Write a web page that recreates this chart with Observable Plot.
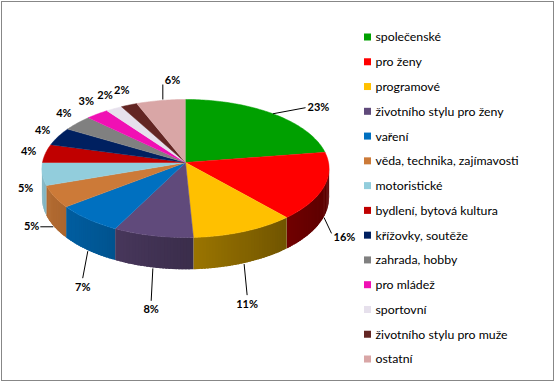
<!DOCTYPE html>
<html><head><meta charset="utf-8">
<script src="https://cdn.jsdelivr.net/npm/d3@7"></script>
<script src="https://cdn.jsdelivr.net/npm/@observablehq/plot@0.6"></script>
<style>body{margin:0;background:#fff} svg{display:block}</style>
</head><body><div id="chart"></div>
<script>
const categories = ["společenské","pro ženy","programové","životního stylu pro ženy","vaření","věda, technika, zajímavosti","motoristické","bydlení, bytová kultura","křížovky, soutěže","zahrada, hobby","pro mládež","sportovní","životního stylu pro muže","ostatní"];
const shares = [22.6,15.9,10.7,8.3,7.0,5.2,5.3,4.3,4.2,3.7,2.8,2.0,2.0,6.0];
const colors = ["#00A000","#FF0000","#FFC000","#604A7B","#0070C0","#CC7A38","#92CDDC","#C00000","#002060","#808080","#F010B4","#E6E0EC","#632523","#D9A6A6"];

const W = 555, H = 382;
const cx = 185, cy = 162, R = 143, RY = 68.5, T = 29, D = 11.5;
function proj(theta, r = 1, down = 0) {
  const X = r * Math.sin(theta), Z = -r * Math.cos(theta);
  const s = D / (D - Z);
  return [cx + R * X * s, cy + RY * Z * s + down * s];
}
function shade(c, f) {
  const k = d3.rgb(c);
  return d3.rgb(k.r * f, k.g * f, k.b * f).formatHex();
}
const total = d3.sum(shares);
const topPts = [], sidePts = [], labels = [], leaders = [];
let cum = 0;
shares.forEach((v, i) => {
  const a0 = cum / total * 2 * Math.PI;
  cum += v;
  const a1 = cum / total * 2 * Math.PI;
  const id = "t" + i;
  topPts.push({id, x: cx, y: cy, c: colors[i]});
  const n = Math.max(2, Math.ceil((a1 - a0) / (Math.PI / 180)));
  for (let k = 0; k <= n; k++) {
    const [x, y] = proj(a0 + (a1 - a0) * k / n);
    topPts.push({id, x, y, c: colors[i]});
  }
  const v0 = Math.max(a0, Math.PI / 2), v1 = Math.min(a1, 3 * Math.PI / 2);
  if (v1 > v0) {
    const step = 1.2 * Math.PI / 180;
    const m = Math.max(1, Math.ceil((v1 - v0) / step));
    const dt = (v1 - v0) / m;
    for (let k = 0; k < m; k++) {
      const t0 = v0 + dt * k;
      const t1 = Math.min(v1, t0 + dt * 1.7);
      const tm = t0 + dt / 2;
      const f = 0.62 - 0.27 * Math.sin(tm);
      const c = shade(colors[i], f);
      const sid = "s" + i + "_" + k;
      for (const p of [proj(t0), proj(t1), proj(t1, 1, T), proj(t0, 1, T)]) sidePts.push({id: sid, x: p[0], y: p[1], c});
    }
  }
  const mid = (a0 + a1) / 2;
  const X = Math.sin(mid), Z = -Math.cos(mid);
  const s = D / (D - Z);
  const [rx, ry] = proj(mid);
  const text = Math.round(v / total * 100) + "%";
  if (Z >= 0.3) {
    const by = ry + T * s;
    if (X < -0.8) {
      leaders.push({id: i, x1: rx - 1, y1: by, x2: rx - 14, y2: by});
      labels.push({x: rx - 15, y: by, text, anchor: "end"});
    } else {
      const ex = rx + X * 8, ey = by + 8 + Z * 26;
      leaders.push({id: i, x1: rx, y1: by + 1, x2: ex, y2: ey});
      if (Z > 0.6) labels.push({x: ex, y: ey + 9, text, anchor: "middle"});
      else labels.push({x: ex + 2, y: ey + 4, text, anchor: "start"});
    }
  } else if (Z < 0 && X > 0.5) {
    const ex = rx + X * 50, ey = ry + Z * 8;
    leaders.push({id: i, x1: rx, y1: ry, x2: ex, y2: ey});
    labels.push({x: ex + 2, y: ey, text, anchor: "start"});
  } else if (Z < 0 && Math.abs(X) < 0.3) {
    leaders.push({id: i, x1: rx + 2, y1: ry - 1, x2: rx + 2, y2: ry - 16});
    labels.push({x: rx + 4, y: ry - 20, text, anchor: "start"});
  } else {
    const frac = Math.max(0, Math.min(1, Z * 2.5));
    const by = ry + T * s * frac;
    labels.push({x: rx + X * 17, y: by + Z * 16, text, anchor: "middle"});
  }
});
const legend = categories.map((name, i) => ({name, c: colors[i], y: 37 + i * 24.77}));

const chart = Plot.plot({
  width: W, height: H,
  marginTop: 1, marginLeft: 1, marginRight: 2, marginBottom: 2,
  x: {domain: [0, W], range: [0, W], axis: null},
  y: {domain: [0, H], range: [0, H], axis: null},
  color: {type: "identity"},
  style: {fontFamily: "Lato", background: "#fff"},
  marks: [
    Plot.frame({stroke: "#878787"}),
    Plot.line(sidePts, {x: "x", y: "y", z: "id", fill: "c", stroke: "none"}),
    Plot.line(topPts, {x: "x", y: "y", z: "id", fill: "c", stroke: "c", strokeWidth: 0.5}),
    Plot.link(leaders, {x1: "x1", y1: "y1", x2: "x2", y2: "y2", stroke: "#000", strokeWidth: 1}),
    Plot.text(labels.filter(d => d.anchor === "middle"), {x: "x", y: "y", text: "text", textAnchor: "middle", fontWeight: "bold", fontSize: 11, fill: "#000"}),
    Plot.text(labels.filter(d => d.anchor === "start"), {x: "x", y: "y", text: "text", textAnchor: "start", fontWeight: "bold", fontSize: 11, fill: "#000"}),
    Plot.text(labels.filter(d => d.anchor === "end"), {x: "x", y: "y", text: "text", textAnchor: "end", fontWeight: "bold", fontSize: 11, fill: "#000"}),
    Plot.rect(legend, {x1: 364, x2: 371, y1: d => d.y - 3.5, y2: d => d.y + 3.5, fill: "c"}),
    Plot.text(legend, {x: 375, y: "y", text: "name", textAnchor: "start", fontSize: 12.3, fill: "#000"})
  ]
});
document.getElementById("chart").append(chart);
</script>
</body></html>
